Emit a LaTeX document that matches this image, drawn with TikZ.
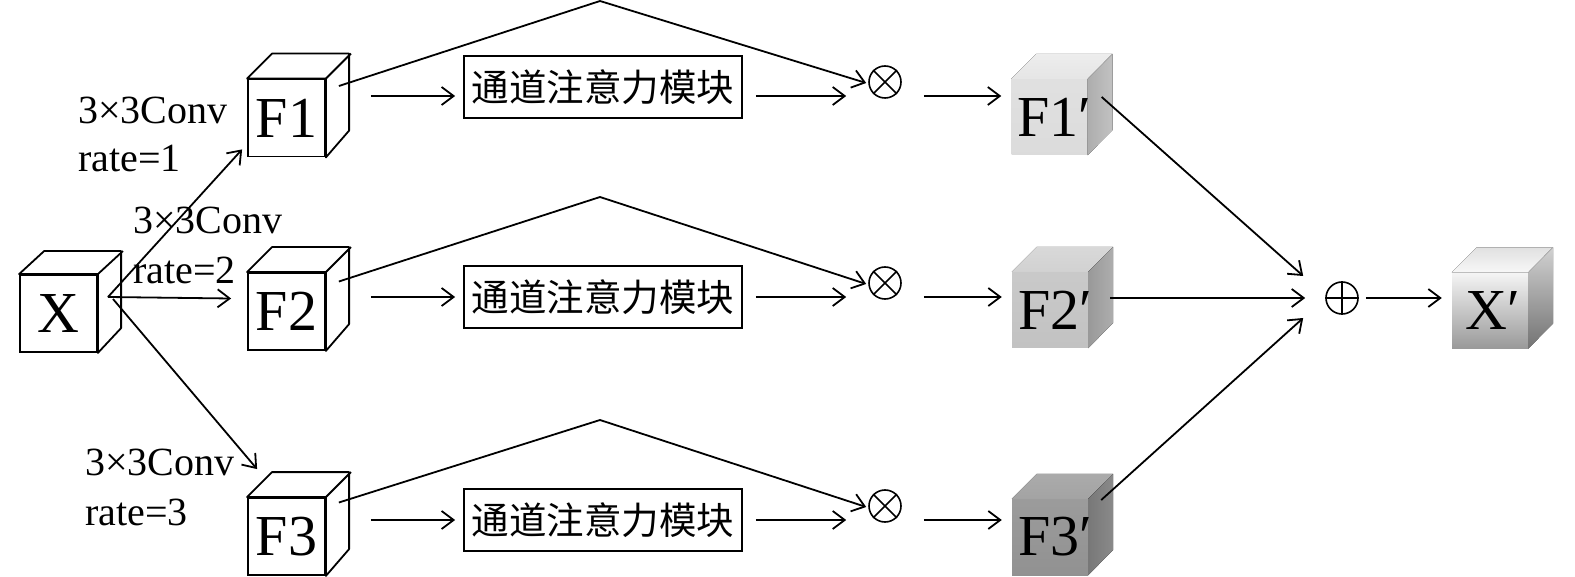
\documentclass[tikz,border=0pt]{standalone}
\usepackage{fontspec}
\setmainfont{Liberation Serif}
\newfontfamily\cjk{Noto Sans CJK SC}
\usetikzlibrary{arrows.meta,calc}
\tikzset{
  ln/.style={line width=1.8pt},
  arr/.style={line width=1.8pt,-{Straight Barb[length=12pt,width=18pt,line width=1.8pt]}},
  face/.style={draw,line width=1.8pt,fill=white,minimum width=77pt,minimum height=77pt,inner sep=0pt},
  sface/.style={minimum width=76pt,minimum height=76pt,inner sep=0pt},
  ftext/.style={font=\fontsize{58}{60}\selectfont,inner sep=0pt},
  lab/.style={font=\fontsize{40}{44}\selectfont,inner sep=0pt,anchor=base west},
  attbox/.style={draw,line width=1.8pt,minimum width=278pt,minimum height=62pt,inner sep=0pt,font=\cjk\fontsize{37.5}{40}\selectfont},
  opnode/.style={circle,draw,line width=1.6pt,minimum size=32pt,inner sep=0pt},
}
\newcommand\wcube[4]{%
  \node[face] (#1) at (#2,#3) {};
  \draw[ln,fill=white,line join=round] (#1.north west) -- ++(#4) -- ++(77,0) -- ++(0,77) -- (#1.south east) -- (#1.north east) -- cycle;
  \draw[ln] (#1.north east) -- ++(#4);
}
\newcommand\scube[6]{%
  \node[sface,#4] (#1) at (#2,#3) {};
  \fill[#5] (#1.north west) -- ++(25,-25) -- ++(76,0) -- (#1.north east) -- cycle;
  \fill[#6] (#1.north east) -- ++(25,-25) -- ++(0,76) -- (#1.south east) -- cycle;
}
\begin{document}
\begin{tikzpicture}[x=1pt,y=-1pt]
\useasboundingbox (0,0) rectangle (1575,577);

% input cube and branch cubes
\wcube{X}{58.5}{313.5}{25,-23}
\node[ftext] (Xt) at (X.center) {X};
\wcube{F1}{286.5}{118}{25,-25}
\node[ftext] (F1t) at (F1.center) {F1};
\wcube{F2}{286.5}{311.5}{25,-25}
\node[ftext] (F2t) at (F2.center) {F2};
\wcube{F3}{286.5}{536.5}{25,-25}
\node[ftext] (F3t) at (F3.center) {F3};

% labels
\node[lab] (l1a) at (78,124) {3×3Conv};
\node[lab] (l1b) at (78,172) {rate=1};
\node[lab] (l2a) at (133,234) {3×3Conv};
\node[lab] (l2b) at (133,284) {rate=2};
\node[lab] (l3a) at (85,475) {3×3Conv};
\node[lab] (l3b) at (85,525) {rate=3};

% branch arrows from X
\coordinate (xo) at (108,297);
\coordinate (xo3) at (113,299);
\draw[arr] (xo) -- ($(F1.south west)+(-5,-8)$);
\draw[arr] (xo) -- ($(F2.west)+(-16,-13)$);
\draw[arr] (xo3) -- ($(F3.north west)+(10,-28)$);

% attention boxes
\node[attbox] (b1) at (603,87) {通道注意力模块};
\node[attbox] (b2) at (603,297) {通道注意力模块};
\node[attbox] (b3) at (603,520) {通道注意力模块};

% multiply nodes
\node[opnode] (m1) at (885,82) {};
\node[opnode] (m2) at (885,283) {};
\node[opnode] (m3) at (885,506) {};
\foreach \m in {m1,m2,m3}{
  \draw[line width=1.6pt] (\m.north west) -- (\m.south east) (\m.north east) -- (\m.south west);
}

% apex coordinates
\coordinate (a1) at (600,1);
\coordinate (a2) at (600,197);
\coordinate (a3) at (600,420);

% triangle skip connections
\draw[arr,line join=round] ($(F1.east)+(13,-32)$) -- (a1) -- ($(m1.west)+(-2,1)$);
\draw[arr,line join=round] ($(F2.east)+(13,-30)$) -- (a2) -- ($(m2.west)+(-2,1)$);
\draw[arr,line join=round] ($(F3.east)+(13,-34)$) -- (a3) -- ($(m3.west)+(-2,1)$);

% shaded result cubes
\scube{F1p}{1049.5}{117}{top color=black!12,bottom color=black!14}{top color=black!7,bottom color=black!10}{left color=black!32,right color=black!24}
\scube{F2p}{1050}{310}{top color=black!21,bottom color=black!24}{top color=black!15,bottom color=black!18}{left color=black!40,right color=black!32}
\scube{F3p}{1050}{537}{top color=black!39,bottom color=black!43}{top color=black!33,bottom color=black!36}{left color=black!53,right color=black!46}
\node[ftext] (F1pt) at ($(F1p.center)+(5,0)$) {F1′};
\node[ftext] (F2pt) at ($(F2p.center)+(5,0)$) {F2′};
\node[ftext] (F3pt) at ($(F3p.center)+(5,0)$) {F3′};

% sum node and output cube
\node[opnode] (s) at (1342,298) {};
\draw[line width=1.6pt] (s.north) -- (s.south) (s.west) -- (s.east);
\scube{Xp}{1490}{310.5}{top color=black!4,bottom color=black!40}{top color=black!12,bottom color=black!3}{top color=black!18,bottom color=black!55}
\node[ftext] (Xpt) at ($(Xp.center)+(3,0)$) {X′};

% horizontal flow arrows
\draw[arr] ($(F1.east)+(45,-22)$) -- ($(b1.west)+(-8,9)$);
\draw[arr] ($(b1.east)+(13,9)$) -- ($(m1.west)+(-22,14)$);
\draw[arr] ($(m1.east)+(22,14)$) -- ($(F1p.west)+(-10,-21)$);
\draw[arr] ($(F2.east)+(45,-14.5)$) -- ($(b2.west)+(-8,0)$);
\draw[arr] ($(b2.east)+(13,0)$) -- ($(m2.west)+(-22,14)$);
\draw[arr] ($(m2.east)+(22,14)$) -- ($(F2p.west)+(-10,-13)$);
\draw[arr] ($(F3.east)+(45,-16.5)$) -- ($(b3.west)+(-8,0)$);
\draw[arr] ($(b3.east)+(13,0)$) -- ($(m3.west)+(-22,14)$);
\draw[arr] ($(m3.east)+(22,14)$) -- ($(F3p.west)+(-10,-17)$);

% merge arrows
\draw[arr] ($(F1p.east)+(14,-20)$) -- ($(s.west)+(-22,-22)$);
\draw[arr] ($(F2p.east)+(22,-12)$) -- ($(s.west)+(-20,0)$);
\draw[arr] ($(F3p.east)+(13,-37)$) -- ($(s.west)+(-22,20)$);
\draw[arr] ($(s.east)+(7,0)$) -- ($(Xp.west)+(-10,-12.5)$);
\end{tikzpicture}
\end{document}
